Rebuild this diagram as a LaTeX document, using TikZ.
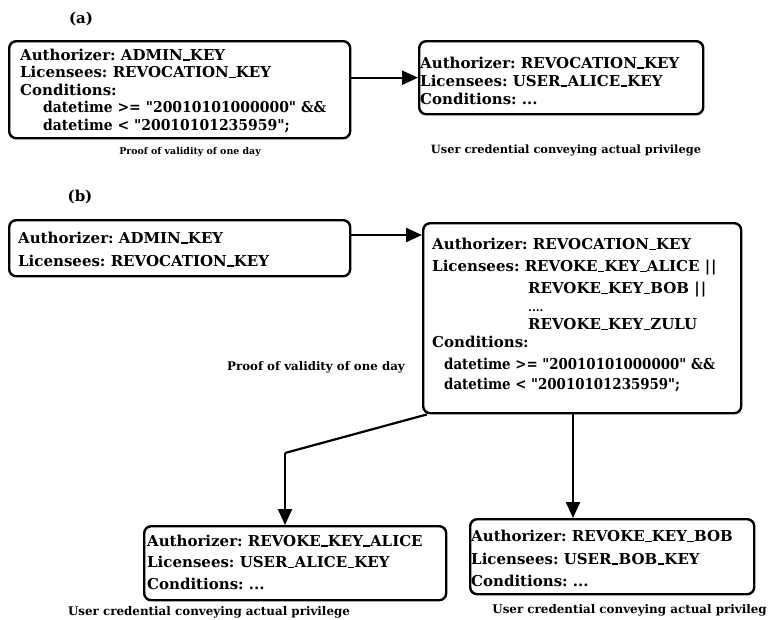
\documentclass[tikz,border=0pt]{standalone}
\usepackage{fontspec}
\usepackage{graphicx}
\setmainfont{DejaVu Serif}
\usetikzlibrary{arrows.meta,calc}
\newcommand\uscore{\kern0.3pt\rule[-0.6pt]{6.5pt}{1.5pt}\kern0.3pt}
\newcommand\qq{\textquotedbl}
\tikzset{
  credbox/.style={draw, line width=2.4pt, rounded corners=7pt, anchor=north west, inner sep=0pt},
  credtext/.style={anchor=west, align=left, inner sep=0pt,
    font=\fontsize{15}{#1}\selectfont\bfseries\frenchspacing},
  captxt/.style={font=\fontsize{#1}{12}\selectfont\bfseries, inner sep=0pt},
  lbl/.style={font=\fontsize{15}{17}\selectfont\bfseries, inner sep=0pt},
  arr/.style={line width=2.2pt, -{Triangle[length=16pt,width=14pt]}}
}
\begin{document}
\begin{tikzpicture}[x=1pt,y=-1pt]
\useasboundingbox (0,0) rectangle (768,619);
% (a)
\node[lbl] (la) at (81,19) {(a)};
\node[credbox, minimum width=341pt, minimum height=97pt] (A1) at (8,40) {};
\node[credtext=17.5] (A1t) at ([xshift=12pt,yshift=-1pt]A1.west)
 {Authorizer: ADMIN\uscore KEY\\
  Licensees: REVOCATION\uscore KEY\\
  Conditions:\\
  \hspace*{23pt}\scalebox{0.93}[1]{datetime >= \qq20010101000000\qq{} \&\&}\\
  \hspace*{23pt}\scalebox{0.93}[1]{datetime < \qq20010101235959\qq;}};
\node[credbox, minimum width=284pt, minimum height=73pt] (A2) at (418,40) {};
\node[credtext=18] (A2t) at ([xshift=2pt,yshift=-3pt]A2.west)
 {Authorizer: REVOCATION\uscore KEY\\
  Licensees: USER\uscore ALICE\uscore KEY\\
  Conditions: ...};
\node[captxt=9.4] (ca1) at (190,152) {Proof of validity of one day};
\node[captxt=11.4] (ca2) at (566,150) {User credential conveying actual privilege};
\draw[arr] (A1.east |- A2.west) -- (A2.west);
% (b)
\node[lbl] (lb) at (80,197) {(b)};
\node[credbox, minimum width=341pt, minimum height=56pt] (B1) at (8,219) {};
\node[credtext=18] (B1t) at ([xshift=10pt,yshift=-1pt]B1.west)
 {Authorizer: ADMIN\uscore KEY\\[5pt]
  Licensees: REVOCATION\uscore KEY};
\node[credbox, minimum width=318pt, minimum height=190pt] (B2) at (422,222) {};
\node[credtext=18] (B2t) at ([xshift=10pt,yshift=3pt]B2.west)
 {Authorizer: REVOCATION\uscore KEY\\[4pt]
  Licensees: REVOKE\uscore KEY\uscore ALICE {|}\kern1pt{|}\\[4pt]
  \hspace*{96pt}REVOKE\uscore KEY\uscore BOB {|}\kern1pt{|}\\[0pt]
  \hspace*{96pt}{\fontsize{11}{11}\selectfont ....}\\[0pt]
  \hspace*{96pt}REVOKE\uscore KEY\uscore ZULU\\[0pt]
  Conditions:\\[4pt]
  \hspace*{12pt}\scalebox{0.89}[1]{datetime >= \qq20010101000000\qq{} \&\&}\\[2pt]
  \hspace*{12pt}\scalebox{0.89}[1]{datetime < \qq20010101235959\qq;}};
\node[captxt=11.8] (cb1) at (316,367) {Proof of validity of one day};
\coordinate (bstart) at ([yshift=-16pt]B1.north east);
\draw[arr] (bstart) -- (bstart -| B2.west);
% bottom
\node[credbox, minimum width=302pt, minimum height=74pt] (C1) at (143,525) {};
\node[credtext=21.5] (C1t) at ([xshift=4pt,yshift=1pt]C1.west)
 {Authorizer: REVOKE\uscore KEY\uscore ALICE\\
  Licensees: USER\uscore ALICE\uscore KEY\\
  Conditions: ...};
\node[credbox, minimum width=284pt, minimum height=75pt] (C2) at (469,518) {};
\node[credtext=22.5] (C2t) at ([xshift=2pt,yshift=-2pt]C2.west)
 {Authorizer: REVOKE\uscore KEY\uscore BOB\\
  Licensees: USER\uscore BOB\uscore KEY\\
  Conditions: ...};
\node[captxt=11.9] (cc1) at (209,612) {User credential conveying actual privilege};
\node[captxt=11.9, anchor=east] (cc2) at (767,610) {User credential conveying actual privileg};
\coordinate (bend) at (285,453);
\draw[line width=2.2pt] ([xshift=5pt]B2.south west) -- (bend);
\draw[arr] (bend) -- (bend |- C1.north);
\coordinate (dtop) at (573,412);
\draw[arr] (dtop) -- (dtop |- C2.north);
\end{tikzpicture}
\end{document}
